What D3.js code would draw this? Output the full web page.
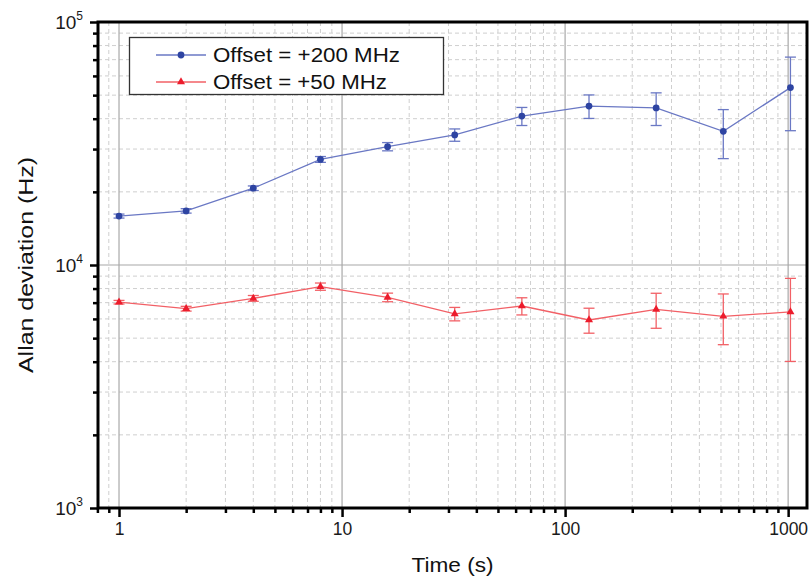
<!DOCTYPE html>
<html>
<head>
<meta charset="utf-8">
<script src="https://cdn.jsdelivr.net/npm/d3@7"></script>
<style>
  body { margin: 0; background: #fff; }
  text { font-family: "Liberation Sans", Arial, sans-serif; }
</style>
</head>
<body>
<div id="chart"></div>
<script>
// averaging times (s)
var taus = [1, 2, 4, 8, 16, 32, 64, 128, 256, 512, 1024];

// Offset = +200 MHz
var blueVals = [15900, 16700, 20700, 27200, 30700, 34300, 41000, 45100, 44300, 35500, 53700];
var blueErr  = [300, 350, 450, 750, 1200, 2000, 3500, 5000, 6800, 8100, 18000];

// Offset = +50 MHz
var redVals = [7030, 6610, 7290, 8150, 7360, 6290, 6780, 5940, 6570, 6150, 6410];
var redErr  = [120, 150, 200, 280, 300, 400, 550, 700, 1080, 1450, 2400];

var xMajor = [1, 10, 100, 1000];
var yMajor = [1e3, 1e4, 1e5];
var yExp = ["3", "4", "5"];

var W = 810, H = 577;
var margin = {top: 22, right: 3, bottom: 69, left: 98};
var iw = W - margin.left - margin.right,
    ih = H - margin.top - margin.bottom;

var x = d3.scaleLog().domain([0.805, 1215]).range([0, iw]);
var y = d3.scaleLog().domain([1e3, 1e5]).range([ih, 0]);

// minor tick positions
var xMinor = [0.8, 0.9];
[1, 10, 100].forEach(function(d){
    for (var k = 2; k <= 9; k++) xMinor.push(k * d);
});
var yMinor = [];
[1e3, 1e4].forEach(function(d){
    for (var k = 2; k <= 9; k++) yMinor.push(k * d);
});

var svg = d3.select('#chart')
    .append('svg')
    .attr('width', W)
    .attr('height', H);

var g = svg.append('g')
    .attr("transform", "translate(" + margin.left + "," + margin.top + ")");

// grid
g.selectAll('.xminor').data(xMinor).enter().append('line')
    .attr('x1', function(d){ return x(d); }).attr('x2', function(d){ return x(d); })
    .attr('y1', 0).attr('y2', ih)
    .attr('stroke', '#cfcfcf').attr('stroke-dasharray', '4,3');
g.selectAll('.yminor').data(yMinor).enter().append('line')
    .attr('y1', function(d){ return y(d); }).attr('y2', function(d){ return y(d); })
    .attr('x1', 0).attr('x2', iw)
    .attr('stroke', '#cfcfcf').attr('stroke-dasharray', '4,3');
g.selectAll('.xmajor').data(xMajor).enter().append('line')
    .attr('x1', function(d){ return x(d); }).attr('x2', function(d){ return x(d); })
    .attr('y1', 0).attr('y2', ih)
    .attr('stroke', '#a8a8a8').attr('stroke-width', 1.2);
g.selectAll('.ymajor').data(yMajor).enter().append('line')
    .attr('y1', function(d){ return y(d); }).attr('y2', function(d){ return y(d); })
    .attr('x1', 0).attr('x2', iw)
    .attr('stroke', '#a8a8a8').attr('stroke-width', 1.2);

// axes ticks
var xAxisMinor = d3.axisBottom(x).tickValues(xMinor).tickSize(5).tickFormat('');
var xAxisMajor = d3.axisBottom(x).tickValues(xMajor).tickSize(9).tickPadding(6)
    .tickFormat(function(d){ return d; });
var yAxisMinor = d3.axisLeft(y).tickValues(yMinor).tickSize(5).tickFormat('');
var yAxisMajor = d3.axisLeft(y).tickValues(yMajor).tickSize(8).tickFormat('');

function styleAxis(sel) {
    sel.select('.domain').remove();
    sel.selectAll('line').attr('stroke', '#000').attr('stroke-width', 2.5);
}

g.append('g').attr('transform', 'translate(0,' + ih + ')').call(xAxisMinor).call(styleAxis);
var xa = g.append('g').attr('transform', 'translate(0,' + ih + ')').call(xAxisMajor).call(styleAxis);
xa.selectAll('text').attr('font-size', 17.5).attr('fill', '#1a1a1a')
    .style('font-family', '"Liberation Sans", Arial, sans-serif');
g.append('g').call(yAxisMinor).call(styleAxis);
g.append('g').call(yAxisMajor).call(styleAxis);

// y labels 10^n
var yl = g.selectAll('.ylab').data(yMajor).enter().append('text')
    .attr('x', -15).attr('y', function(d){ return y(d) + 7; })
    .attr('text-anchor', 'end').attr('font-size', 19).attr('fill', '#1a1a1a');
yl.append('tspan').text('10');
yl.append('tspan').attr('dy', -9).attr('font-size', 12)
    .text(function(d, i){ return yExp[i]; });

// frame
g.append('rect').attr('x', 0).attr('y', 0).attr('width', iw).attr('height', ih)
    .attr('fill', 'none').attr('stroke', '#000').attr('stroke-width', 3);

// series
var series = [
    {name: 'Offset = +200 MHz', len: 187, vals: blueVals, err: blueErr, line: '#6a78c4', mark: '#2e44a2', shape: 'circle'},
    {name: 'Offset = +50 MHz', len: 174, vals: redVals, err: redErr, line: '#f26066', mark: '#ec1c2c', shape: 'triangle'}
];

function marker(s) {
    return d3.symbol().type(s.shape === 'circle' ? d3.symbolCircle : d3.symbolTriangle)
        .size(s.shape === 'circle' ? 36 : 28);
}

var line = d3.line()
    .x(function(d){ return x(d[0]); })
    .y(function(d){ return y(d[1]); });

series.forEach(function(s){
    var pts = taus.map(function(t, i){ return [t, s.vals[i], s.err[i]]; });
    var eg = g.append('g').attr('stroke', s.line).attr('stroke-width', 1.3);
    pts.forEach(function(p){
        var cx = x(p[0]), y1 = y(p[1] + p[2]), y2 = y(p[1] - p[2]);
        eg.append('line').attr('x1', cx).attr('x2', cx).attr('y1', y1).attr('y2', y2);
        eg.append('line').attr('x1', cx - 5.5).attr('x2', cx + 5.5).attr('y1', y1).attr('y2', y1);
        eg.append('line').attr('x1', cx - 5.5).attr('x2', cx + 5.5).attr('y1', y2).attr('y2', y2);
    });
    g.append('path').datum(pts).attr('d', line)
        .attr('fill', 'none').attr('stroke', s.line).attr('stroke-width', 1.3);
    g.selectAll(null).data(pts).enter().append('path')
        .attr('d', marker(s))
        .attr('transform', function(d){ return 'translate(' + x(d[0]) + ',' + y(d[1]) + ')'; })
        .attr('fill', s.mark);
});

// legend
var lg = svg.append('g');
lg.append('rect').attr('x', 129.5).attr('y', 37.5).attr('width', 314).attr('height', 57)
    .attr('fill', '#fff').attr('stroke', '#333').attr('stroke-width', 1.3);
series.forEach(function(s, i){
    var ly = 55 + i * 27;
    lg.append('line').attr('x1', 156).attr('x2', 206).attr('y1', ly).attr('y2', ly)
        .attr('stroke', s.line).attr('stroke-width', 1.3);
    lg.append('path')
        .attr('d', marker(s))
        .attr('transform', 'translate(181,' + ly + ')').attr('fill', s.mark);
    lg.append('text').attr('x', 213).attr('y', ly + 7).attr('font-size', 20)
        .attr('textLength', s.len).attr('lengthAdjust', 'spacingAndGlyphs')
        .attr('fill', '#111').text(s.name);
});

// axis titles
svg.append('text').attr('x', margin.left + iw / 2).attr('y', 572)
    .attr('text-anchor', 'middle').attr('font-size', 20).attr('fill', '#111')
    .attr('textLength', 82).attr('lengthAdjust', 'spacingAndGlyphs')
    .text('Time (s)');
svg.append('text')
    .attr('transform', 'translate(33,' + (margin.top + ih / 2) + ') rotate(-90)')
    .attr('text-anchor', 'middle').attr('font-size', 21).attr('fill', '#111')
    .attr('textLength', 216).attr('lengthAdjust', 'spacingAndGlyphs')
    .text('Allan deviation (Hz)');
</script>
</body>
</html>
